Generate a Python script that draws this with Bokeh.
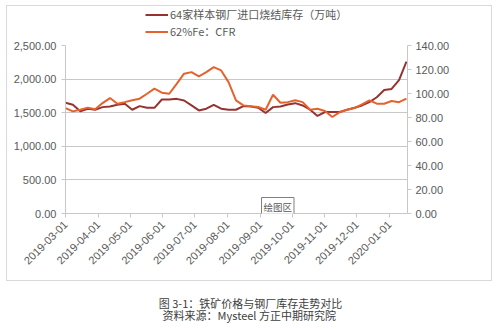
import pandas as pd
from bokeh.plotting import figure
from bokeh.layouts import column
from bokeh.models import (Range1d, LinearAxis, FixedTicker, NumeralTickFormatter,
                          DatetimeTickFormatter, Legend, LegendItem, Label)
from bokeh.core.properties import value
from bokeh.embed import file_html
from bokeh.resources import INLINE

# ---- data (weekly) ----
dates = pd.date_range("2019-03-01", periods=47, freq="7D")
inventory = [1647, 1618, 1520, 1559, 1544, 1583, 1593, 1618, 1632, 1544,
             1598, 1573, 1573, 1696, 1696, 1706, 1681, 1608, 1534, 1559,
             1618, 1559, 1544, 1544, 1598, 1593, 1573, 1495, 1583, 1593,
             1622, 1642, 1608, 1544, 1451, 1510, 1510, 1510, 1544, 1573,
             1608, 1657, 1730, 1838, 1853, 1985, 2260]
price = [87.8, 85.1, 86.5, 88.2, 86.8, 92.0, 96.2, 91.5, 92.8, 94.3,
         95.7, 99.8, 104.0, 100.7, 99.8, 108.0, 116.5, 117.8, 114.2, 117.8,
         122.0, 119.2, 109.5, 94.3, 90.1, 89.3, 88.7, 86.5, 99.0, 92.3,
         92.8, 94.3, 92.8, 86.5, 87.3, 85.4, 80.4, 84.5, 86.5, 87.9,
         91.0, 94.3, 91.5, 91.5, 93.7, 92.8, 95.7]
month_ticks = pd.date_range("2019-03-01", "2020-01-01", freq="MS")
left_ticks = [0, 500, 1000, 1500, 2000, 2500]
right_ticks = [0, 20, 40, 60, 80, 100, 120, 140]
series_names = ["64家样本钢厂进口烧结库存（万吨）", "62%Fe：CFR"]
caption = ["图 3-1：铁矿价格与钢厂库存走势对比", "资料来源：Mysteel  方正中期研究院"]

DARK = "#963331"
ORANGE = "#E5622D"
GRID = "#C8C8C8"
TXT = "#595959"
NAN = float("nan")

# ---- legend strip ----
top = figure(width=484, height=34, output_backend="svg", toolbar_location=None,
             x_range=Range1d(0, 1), y_range=Range1d(0, 1), min_border=0,
             x_axis_location=None, y_axis_location=None)
top.grid.visible = False
top.outline_line_color = None
d1 = top.line(x=[NAN], y=[NAN], line_color=DARK, line_width=2)
d2 = top.line(x=[NAN], y=[NAN], line_color=ORANGE, line_width=2)
legend = Legend(items=[LegendItem(label=series_names[0], renderers=[d1]),
                       LegendItem(label=series_names[1], renderers=[d2])],
                location=(80, 1), orientation="vertical",
                glyph_width=23, glyph_height=13, label_height=13, spacing=1,
                label_standoff=2, padding=0, margin=0,
                border_line_color=None, background_fill_alpha=0,
                label_text_font="Noto Sans CJK SC", label_text_font_size="11px",
                label_text_color=TXT)
top.add_layout(legend, "center")

# ---- main chart ----
p = figure(width=484, height=240, x_axis_type="datetime", output_backend="svg",
           toolbar_location=None,
           x_range=Range1d(pd.Timestamp("2019-03-01"), pd.Timestamp("2020-01-18")),
           y_range=Range1d(0, 2500),
           min_border_left=58, min_border_right=84, min_border_top=5, min_border_bottom=67)
p.extra_y_ranges = {"r": Range1d(0, 140)}
p.outline_line_color = None

l1 = p.line(dates, inventory, line_color=DARK, line_width=2)
l2 = p.line(dates, price, line_color=ORANGE, line_width=2, y_range_name="r")

ya = p.yaxis[0]
ya.ticker = FixedTicker(ticks=left_ticks)
ya.formatter = NumeralTickFormatter(format="0,0.00")
ra = LinearAxis(y_range_name="r", ticker=FixedTicker(ticks=right_ticks),
                formatter=NumeralTickFormatter(format="0.00"))
p.add_layout(ra, "right")

xa = p.xaxis[0]
xa.ticker = FixedTicker(ticks=[t.value // 10**6 for t in month_ticks])
fmt = "%Y-%m-%d"
xa.formatter = DatetimeTickFormatter(days=fmt, months=fmt, years=fmt, hours=fmt,
                                     minutes=fmt, seconds=fmt, milliseconds=fmt,
                                     microseconds=fmt, minsec=fmt, hourmin=fmt)
xa.major_label_orientation = 0.785398

for ax in [ya, ra, xa]:
    ax.axis_line_color = GRID
    ax.major_tick_line_color = GRID
    ax.major_tick_out = 4
    ax.major_tick_in = 0
    ax.minor_tick_line_color = None
    ax.major_label_text_color = TXT
    ax.major_label_text_font = "Liberation Sans"
    ax.major_label_text_font_size = "11px"
ya.major_label_standoff = 5
ra.major_label_standoff = 4
xa.major_label_standoff = 5

p.xgrid.grid_line_color = None
p.ygrid.grid_line_color = GRID
p.ygrid.ticker = FixedTicker(ticks=left_ticks)

# plot-area tooltip
p.add_layout(Label(x=254, y=157, x_units="canvas", y_units="canvas", text="绘图区",
                   text_font="Noto Sans CJK SC", text_font_size="9.5px", text_color=TXT,
                   text_baseline="top", border_line_color="#808080",
                   background_fill_color="white", padding=2))

# ---- caption ----
c = figure(width=500, height=48, output_backend="svg", toolbar_location=None,
           x_range=Range1d(0, 500), y_range=Range1d(48, 0), min_border=0,
           x_axis_location=None, y_axis_location=None)
c.grid.visible = False
c.outline_line_color = None
c.text(x=[250, 250], y=[21.5, 33], text=caption, text_align="center",
       text_baseline="middle", text_font=value("Noto Sans CJK SC"),
       text_font_size="11px", text_color="#404040")

chart = column(top, p, spacing=0, margin=(5, 0, 0, 6),
               styles={"border": "1px solid #D9D9D9"})
layout = column(chart, c, spacing=0)
open("out.html", "w").write(file_html(layout, INLINE))
